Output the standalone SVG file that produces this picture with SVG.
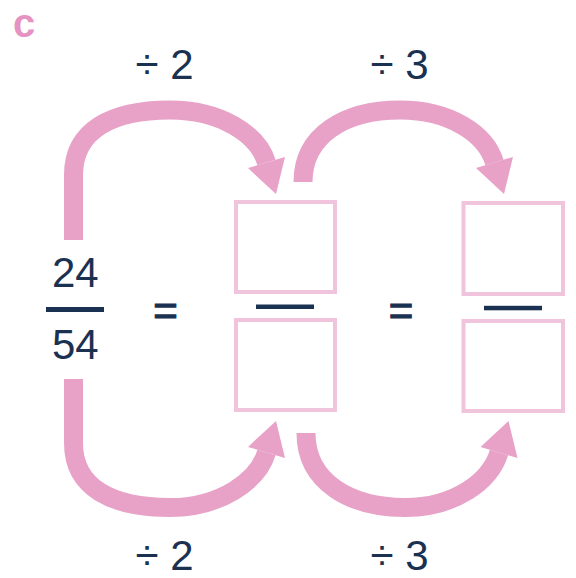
<svg xmlns="http://www.w3.org/2000/svg" width="576" height="578" viewBox="0 0 576 578">
<style>
.t{font-family:"Liberation Sans",Arial,sans-serif;fill:#1b3152;font-size:42px;text-anchor:middle}
.eq{font-family:"Liberation Sans",Arial,sans-serif;fill:#1b3152;stroke:#1b3152;stroke-width:1.2;font-size:42px;text-anchor:middle}
.box{fill:#fff;stroke:#f0c4dc;stroke-width:4}
.bar{fill:#1b3152}
.arc{fill:none;stroke:#e8a1c7;stroke-width:19;stroke-linecap:butt}
.head{fill:#e8a1c7}
</style>
<rect width="576" height="578" fill="#fff"/>
<g id="label-c"><text x="13" y="36.5" style="font-family:'Liberation Sans',Arial,sans-serif;font-weight:bold;font-size:40px;fill:#e692c2">c</text></g>
<g id="connectors">
<path class="arc" d="M73.5,240 L73.5,175 C73.5,130 112,110 170,110 C220,110 257.8,133.8 266.5,162.5"/>
<polygon class="head" points="248,168.1 285,156.9 276,194"/>
<path class="arc" d="M303,182 C303,135 345,110 400,110 C450,110 485.8,133.8 494.5,162.5"/>
<polygon class="head" points="476,168.1 513,156.9 504,194"/>
<path class="arc" d="M73.5,379 L73.5,443 C73.5,488 112,507.5 170,507.5 C220,507.5 257.8,481.2 266.5,452.5"/>
<polygon class="head" points="248,446.9 285,458.1 276,421"/>
<path class="arc" d="M306,433 C306,482 350,507.5 405,507.5 C455,507.5 490.3,481.2 499,452.5"/>
<polygon class="head" points="480.5,446.9 517.5,458.1 508.5,421"/>
</g>
<g id="labels">
<text class="t" x="164.5" y="79">÷ 2</text>
<text class="t" x="399.5" y="79">÷ 3</text>
<text class="t" x="164.5" y="570">÷ 2</text>
<text class="t" x="399.5" y="570">÷ 3</text>
</g>
<g id="fraction-start">
<text class="t" x="75.3" y="286.7">24</text>
<rect class="bar" x="46" y="307" width="58" height="5"/>
<text class="t" x="75.3" y="359">54</text>
</g>
<g id="equals-1"><text class="eq" x="165.4" y="324.5">=</text></g>
<g id="fraction-2">
<rect class="box" x="236" y="202" width="99" height="90"/>
<rect class="bar" x="256" y="304.5" width="58" height="4.5"/>
<rect class="box" x="236" y="320" width="99" height="90"/>
</g>
<g id="equals-2"><text class="eq" x="400.9" y="325">=</text></g>
<g id="fraction-3">
<rect class="box" x="463.5" y="203" width="99.5" height="91"/>
<rect class="bar" x="484" y="305.8" width="58" height="4.5"/>
<rect class="box" x="463.5" y="321" width="99.5" height="90"/>
</g>
</svg>
